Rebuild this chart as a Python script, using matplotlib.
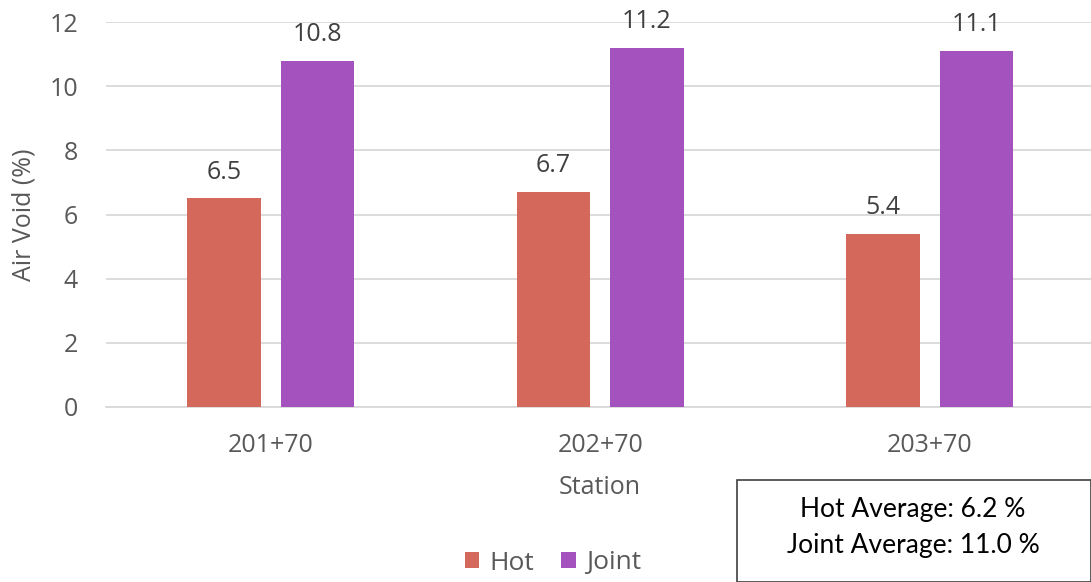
import matplotlib
matplotlib.use("Agg")
import matplotlib.pyplot as plt
import numpy as np
from matplotlib.patches import Rectangle

stations = ["201+70", "202+70", "203+70"]
hot = [6.5, 6.7, 5.4]
joint = [10.8, 11.2, 11.1]
hot_avg = 6.2
joint_avg = 11.0

plt.rcParams["font.family"] = ["Open Sans", "DejaVu Sans"]
text_col = "#595959"
fs = 18

fig = plt.figure(figsize=(10.91, 5.82), dpi=100)
ax = fig.add_axes([106 / 1091, 1 - 407 / 582, (1094.5 - 106) / 1091, (407 - 22) / 582])

x = np.arange(len(stations))
w = 0.222
off = 0.142
b1 = ax.bar(x - off, hot, w, color="#D4695B", label="Hot", zorder=3)
b2 = ax.bar(x + off, joint, w, color="#A453BE", label="Joint", zorder=3)

for bars, vals in ((b1, hot), (b2, joint)):
    for r, v in zip(bars, vals):
        ax.annotate(f"{v:.1f}", (r.get_x() + r.get_width() / 2, v),
                    xytext=(0, 10), textcoords="offset points",
                    ha="center", va="bottom", fontsize=fs, color="#404040")

ax.set_xlim(-0.5, 2.5)
ax.set_ylim(0, 12)
ax.set_yticks(range(0, 13, 2))
ax.set_xticks(x)
ax.set_xticklabels(stations)
ax.grid(axis="y", color="#D9D9D9", linewidth=1.3, zorder=0)
for s in ("top", "right", "left"):
    ax.spines[s].set_visible(False)
ax.spines["bottom"].set_color("#D9D9D9")
ax.spines["bottom"].set_linewidth(1.3)
ax.tick_params(axis="both", length=0, labelsize=fs, colors=text_col)
ax.tick_params(axis="y", pad=20)
ax.tick_params(axis="x", pad=19)
ax.set_xlabel("Station", fontsize=fs, color=text_col, labelpad=12)
ax.set_ylabel("Air Void (%)", fontsize=fs, color=text_col, labelpad=9)

fig.legend(handles=[b1, b2], loc="center", bbox_to_anchor=(553 / 1091, 1 - 563 / 582),
           ncol=2, frameon=False, fontsize=19, handlelength=0.55, handleheight=0.55,
           handletextpad=0.4, columnspacing=1.0, labelcolor=text_col)

fig.patches.append(Rectangle((737 / 1091, 0), (1091 - 737) / 1091, 102 / 582,
                             transform=fig.transFigure, fill=False,
                             edgecolor="#404040", linewidth=1.2))
fig.text(913 / 1091, 1 - 509 / 582, f"Hot Average: {hot_avg:.1f} %", ha="center", va="center",
         fontsize=19, color="black", family=["Lato", "DejaVu Sans"])
fig.text(913 / 1091, 1 - 545 / 582, f"Joint Average: {joint_avg:.1f} %", ha="center", va="center",
         fontsize=19, color="black", family=["Lato", "DejaVu Sans"])

fig.savefig("out.png", dpi=100)
